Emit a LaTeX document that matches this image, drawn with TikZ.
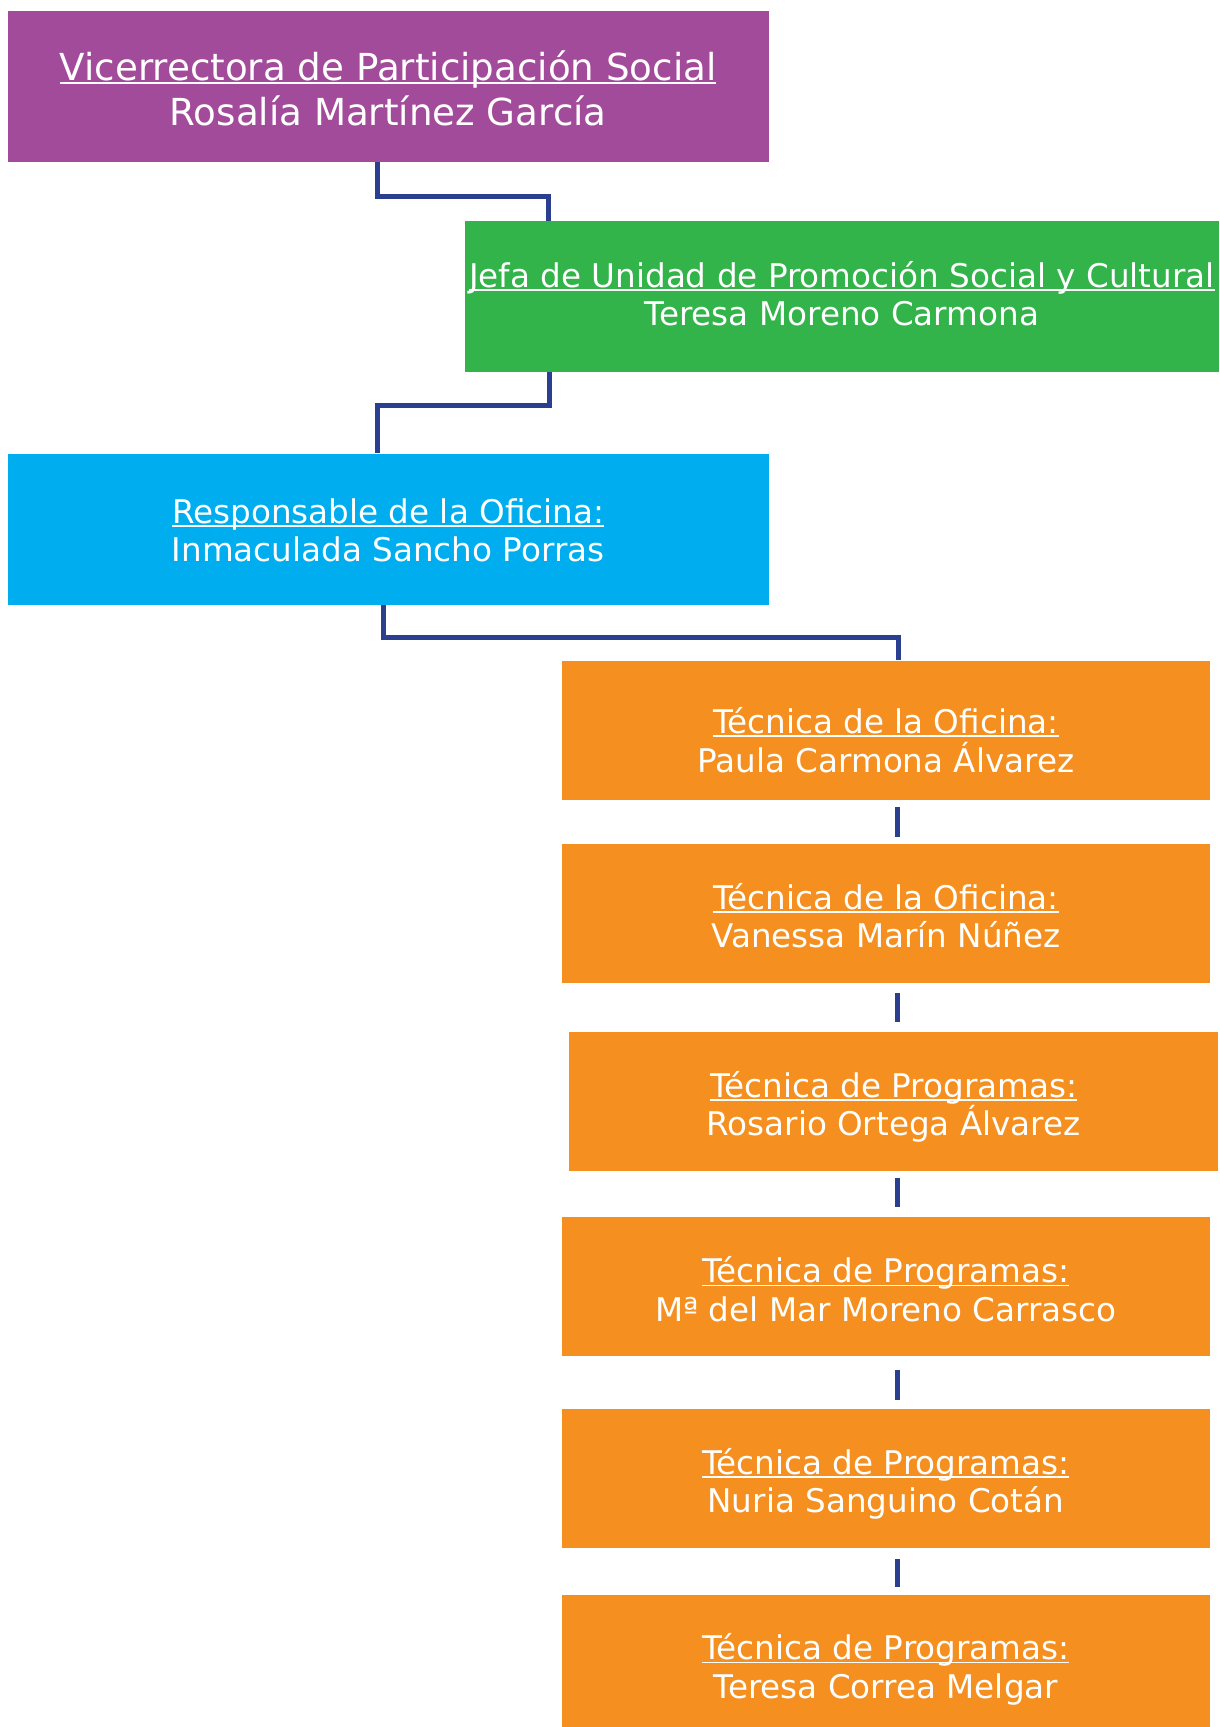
\documentclass[tikz,border=0pt]{standalone}
\usepackage{fontspec}
\setmainfont{DejaVu Sans}
\definecolor{cpurple}{HTML}{A34B9B}
\definecolor{cgreen}{HTML}{33B44A}
\definecolor{cblue}{HTML}{00AEEF}
\definecolor{corange}{HTML}{F58F20}
\definecolor{cline}{HTML}{2A3F8F}
\newcommand\myul[1]{\leavevmode\setbox0\hbox{#1}\rlap{\rule[-3.5pt]{\wd0}{1.7pt}}\box0}
% #1 downward shift, #2 width, #3 first line, #4 second line
\newcommand\twol[4]{\raisebox{-#1}[\height][\depth]{\parbox{#2}{\centering\myul{#3}\\#4}}}
\begin{document}
\begin{tikzpicture}[x=1pt,y=-1pt,
  box/.style={inner sep=0pt,text=white,font=\fontsize{32.6}{38.5}\selectfont},
  obox/.style={box,fill=corange,minimum width=648.6pt,minimum height=139pt},
  conn/.style={draw=cline,line width=5pt,line join=miter},
  dashseg/.style={draw=cline,line width=4.5pt}]
\useasboundingbox (0,0) rectangle (1219,1727);
\node[box,fill=cpurple,minimum width=761pt,minimum height=151pt,font=\fontsize{37.2}{45}\selectfont] (p) at (388.15,86.45)
  {\twol{2pt}{740pt}{Vicerrectora de Participación Social}{Rosalía Martínez García}};
\node[box,fill=cgreen,minimum width=754.3pt,minimum height=151pt] (g) at (841.85,296.75)
  {\twol{-3.3pt}{750pt}{Jefa de Unidad de Promoción Social y Cultural}{Teresa Moreno Carmona}};
\node[box,fill=cblue,minimum width=761pt,minimum height=151pt] (b) at (388.15,529.15)
  {\twol{1pt}{740pt}{Responsable de la Oficina:}{Inmaculada Sancho Porras}};
\node[obox] (o1) at (885.9,730.1) {\twol{10pt}{620pt}{Técnica de la Oficina:}{Paula Carmona Álvarez}};
\node[obox] (o2) at (885.9,913.45) {\twol{2pt}{620pt}{Técnica de la Oficina:}{Vanessa Marín Núñez}};
\node[obox] (o3) at (893.6,1101.2) {\twol{5.5pt}{620pt}{Técnica de Programas:}{Rosario Ortega Álvarez}};
\node[obox] (o4) at (885.9,1286.2) {\twol{3pt}{620pt}{Técnica de Programas:}{Mª del Mar Moreno Carrasco}};
\node[obox] (o5) at (885.9,1478.35) {\twol{5.5pt}{620pt}{Técnica de Programas:}{Nuria Sanguino Cotán}};
\node[obox] (o6) at (885.9,1664) {\twol{5.5pt}{620pt}{Técnica de Programas:}{Teresa Correa Melgar}};
% connectors
\coordinate (k1) at (377.7,196);
\coordinate (k2) at (548.4,196);
\draw[conn] (p.south -| k1) -- (k1) -- (k2) -- (g.north -| k2);
\coordinate (k3) at (549,405.7);
\coordinate (k4) at (377.5,405.7);
\draw[conn] (g.south -| k3) -- (k3) -- (k4) -- (b.north -| k4);
\coordinate (k5) at (383.6,637.7);
\coordinate (k6) at (898,637.7);
\draw[conn] (b.south -| k5) -- (k5) -- (k6) -- (o1.north -| k6);
\coordinate (xl) at (897.6,0);
\draw[dashseg,shorten <=7pt,shorten >=7pt] (o1.south -| xl) -- (o2.north -| xl);
\draw[dashseg,shorten <=10pt,shorten >=10pt] (o2.south -| xl) -- (o3.north -| xl);
\draw[dashseg,shorten <=7pt,shorten >=10pt] (o3.south -| xl) -- (o4.north -| xl);
\draw[dashseg,shorten <=14pt,shorten >=9pt] (o4.south -| xl) -- (o5.north -| xl);
\draw[dashseg,shorten <=11pt,shorten >=7pt] (o5.south -| xl) -- (o6.north -| xl);
\end{tikzpicture}
\end{document}
